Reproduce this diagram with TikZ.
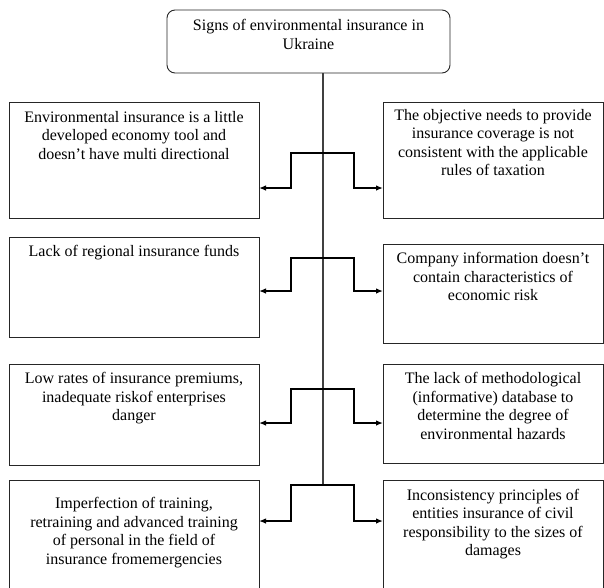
\documentclass[tikz,border=0pt]{standalone}
\usepackage{fontspec}
\setmainfont{Liberation Serif}
\usetikzlibrary{arrows.meta}
\newcommand\bxt[4]{\parbox[c][#1][t]{#2}{\centering\rule{0pt}{#3}#4}}
\begin{document}
\begin{tikzpicture}[x=1pt,y=-1pt,
  box/.style={draw=black!85,line width=0.9pt,inner sep=0pt,outer sep=0pt,anchor=north west},
  conn/.style={draw=black,line width=1.3pt,-{Latex[length=7pt,width=5.5pt]}},
  vline/.style={draw=black!75,line width=1.3pt}]
\useasboundingbox (0,0) rectangle (604,587);
\clip (0,0) rectangle (604,587);
\fontsize{16}{18.5}\selectfont
\node[box,rounded corners=8pt] (top) at (167,10) {\bxt{63pt}{283pt}{20.6pt}{Signs of environmental insurance in\\Ukraine}};
\node[box] (L1) at (9,102) {\bxt{116pt}{250pt}{20pt}{Environmental insurance is a little\\developed economy tool and\\doesn’t have multi directional}};
\node[box] (R1) at (383,102) {\bxt{116pt}{220pt}{18pt}{The objective needs to provide\\insurance coverage is not\\consistent with the applicable\\rules of taxation}};
\node[box] (L2) at (9,237) {\bxt{100pt}{250pt}{19pt}{Lack of regional insurance funds}};
\node[box] (R2) at (383,244) {\bxt{99pt}{220pt}{19.6pt}{Company information doesn’t\\contain characteristics of\\economic risk}};
\node[box] (L3) at (9,364) {\bxt{101pt}{250pt}{19.6pt}{Low rates of insurance premiums,\\inadequate riskof enterprises\\danger}};
\node[box] (R3) at (383,364) {\bxt{99pt}{220pt}{19.6pt}{The lack of methodological\\(informative) database to\\determine the degree of\\environmental hazards}};
\node[box] (L4) at (9,480) {\bxt{130pt}{250pt}{28.6pt}{Imperfection of training,\\retraining and advanced training\\of personal in the field of\\insurance fromemergencies}};
\node[box] (R4) at (383,480) {\bxt{130pt}{220pt}{20pt}{Inconsistency principles of\\entities insurance of civil\\responsibility to the sizes of\\damages}};
\coordinate (j1) at (323,153); \coordinate (a1) at (0,188);
\coordinate (j2) at (323,258); \coordinate (a2) at (0,291);
\coordinate (j3) at (323,389); \coordinate (a3) at (0,423);
\coordinate (j4) at (323,485); \coordinate (a4) at (0,521);
\draw[vline] (top.south -| j1) -- (j4);
\draw[conn] (j1) -- ++(-32,0) |- (L1.east |- a1);
\draw[conn] (j1) -- ++(31,0) |- (R1.west |- a1);
\draw[conn] (j2) -- ++(-32,0) |- (L2.east |- a2);
\draw[conn] (j2) -- ++(31,0) |- (R2.west |- a2);
\draw[conn] (j3) -- ++(-32,0) |- (L3.east |- a3);
\draw[conn] (j3) -- ++(31,0) |- (R3.west |- a3);
\draw[conn] (j4) -- ++(-32,0) |- (L4.east |- a4);
\draw[conn] (j4) -- ++(31,0) |- (R4.west |- a4);
\end{tikzpicture}
\end{document}
